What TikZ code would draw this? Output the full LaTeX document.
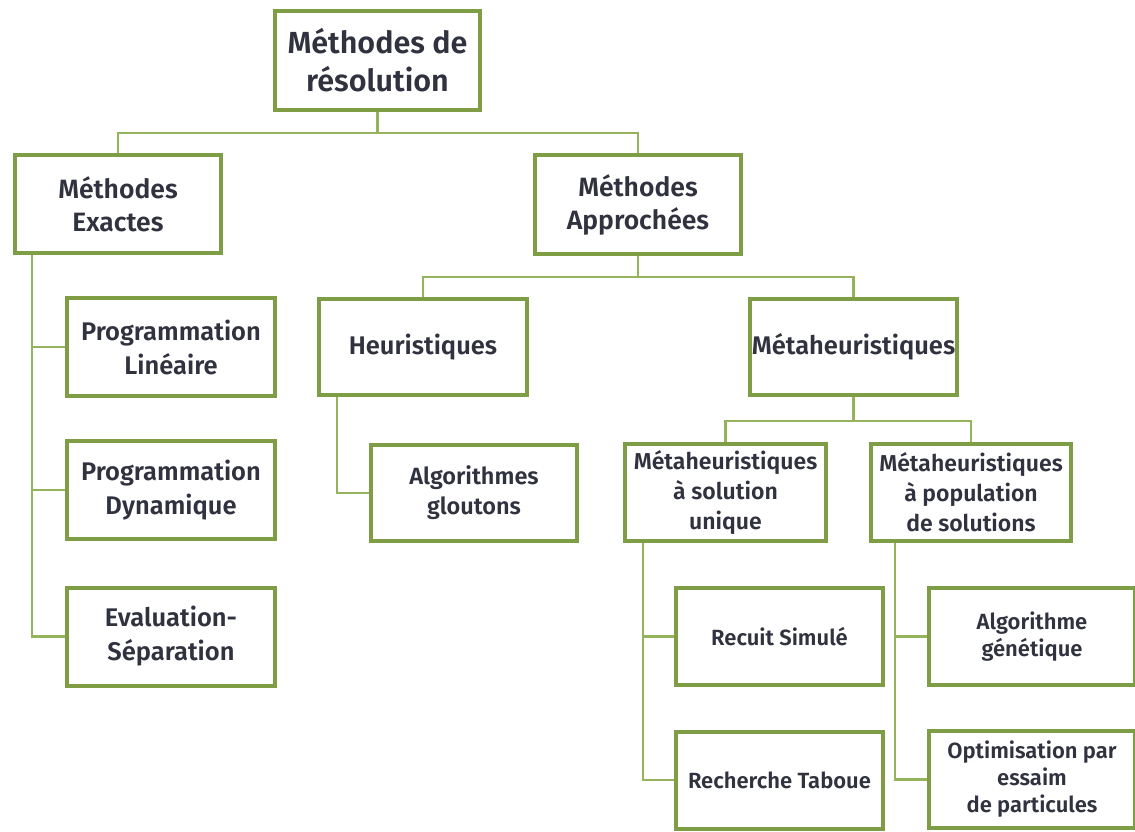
\documentclass[tikz,border=0pt]{standalone}
\usepackage{fontspec}
\setmainfont{Fira Sans}[BoldFont={Fira Sans SemiBold}]
\usetikzlibrary{shadows}
\definecolor{boxgreen}{HTML}{7E9D45}
\definecolor{linkgreen}{HTML}{94B35A}
\definecolor{txt}{HTML}{30323F}
\tikzset{
  box/.style={draw=boxgreen, line width=4pt, fill=white, align=center,
    text=txt, font=\bfseries, inner sep=1pt,
    drop shadow={shadow xshift=1.5pt, shadow yshift=-1.5pt, opacity=0.25, fill=black!60}},
  link/.style={draw=linkgreen, line width=2.2pt},
  big/.style={font=\fontsize{30.5}{38}\selectfont\bfseries},
  lvtwo/.style={font=\fontsize{26.5}{33}\selectfont\bfseries},
  lvthree/.style={font=\fontsize{25.5}{34}\selectfont\bfseries},
  glout/.style={font=\fontsize{23.5}{30}\selectfont\bfseries},
  metasub/.style={font=\fontsize{23}{30}\selectfont\bfseries},
  leaf/.style={font=\fontsize{22}{27}\selectfont\bfseries},
}
\begin{document}
\begin{tikzpicture}[x=1pt,y=-1pt]
\useasboundingbox (0,0) rectangle (1135,831);
\clip (0,0) rectangle (1135,831);
\fill[white] (0,0) rectangle (1135,831);

\node[box,big,minimum width=205,minimum height=99] (root) at (377.5,60.5) {M\'ethodes de\\r\'esolution};

\node[box,lvtwo,minimum width=206,minimum height=98] (exactes) at (118,204) {M\'ethodes\\Exactes};
\node[box,lvtwo,minimum width=206,minimum height=99] (approchees) at (638,204.5) {M\'ethodes\\Approch\'ees};

\node[box,lvthree,minimum width=208,minimum height=98] (proglin) at (171,347) {Programmation\\Lin\'eaire};
\node[box,lvthree,minimum width=208,minimum height=98] (progdyn) at (171,490) {Programmation\\Dynamique};
\node[box,lvthree,minimum width=208,minimum height=98] (evalsep) at (171,636.5) {Evaluation-\\S\'eparation};

\node[box,lvthree,minimum width=208,minimum height=96] (heur) at (423,347) {\raisebox{5pt}{Heuristiques}};
\node[box,glout,minimum width=206,minimum height=96] (glouton) at (474,493) {Algorithmes\\gloutons};

\node[box,lvthree,minimum width=207,minimum height=96] (meta) at (853.5,347) {\raisebox{5pt}{M\'etaheuristiques}};
\node[box,metasub,minimum width=201,minimum height=97] (unique) at (725.5,492.5) {M\'etaheuristiques\\\`a solution\\unique};
\node[box,metasub,minimum width=200,minimum height=97] (pop) at (971,492.5) {M\'etaheuristiques\\\`a population\\de solutions};

\node[box,leaf,minimum width=207,minimum height=97] (recuit) at (779.5,636.5) {Recuit Simul\'e};
\node[box,leaf,minimum width=207,minimum height=97] (taboue) at (779.5,780) {Recherche Taboue};
\node[box,leaf,minimum width=206,minimum height=97] (genet) at (1032,636.5) {Algorithme\\g\'en\'etique};
\node[box,leaf,minimum width=206,minimum height=97] (optim) at (1032,779.5) {Optimisation par\\essaim\\de particules};

% connectors
\coordinate (j1) at (377.5,133);
\draw[link] (root.south) -- (j1);
\draw[link] (j1) -| (exactes.north);
\draw[link] (j1) -| (approchees.north);

\draw[link] (exactes.south west) ++(19,0) |- (proglin.west);
\draw[link] (exactes.south west) ++(19,0) |- (progdyn.west);
\draw[link] (exactes.south west) ++(19,0) |- (evalsep.west);

\coordinate (j2) at (638,277);
\draw[link] (approchees.south) -- (j2);
\draw[link] (j2) -| (heur.north);
\draw[link] (j2) -| (meta.north);

\draw[link] (heur.south west) ++(20,0) |- (glouton.west);

\coordinate (j3) at (853.5,421);
\draw[link] (meta.south) -- (j3);
\draw[link] (j3) -| (unique.north);
\draw[link] (j3) -| (pop.north);

\draw[link] (unique.south west) ++(20,0) |- (recuit.west);
\draw[link] (unique.south west) ++(20,0) |- (taboue.west);
\draw[link] (pop.south west) ++(26,0) |- (genet.west);
\draw[link] (pop.south west) ++(26,0) |- (optim.west);
\end{tikzpicture}
\end{document}
